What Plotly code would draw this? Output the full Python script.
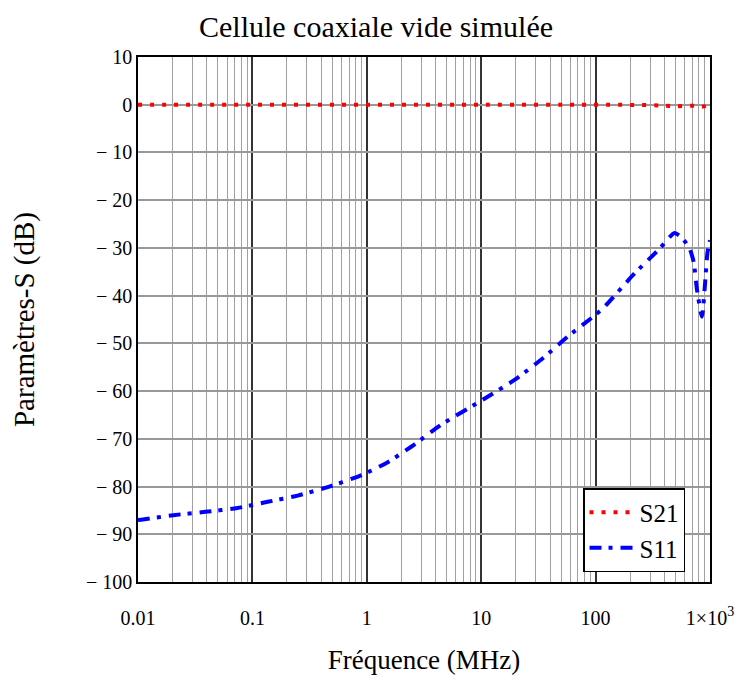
import plotly.graph_objects as go

# S11 data (frequency in MHz, dB)
s11_freq = [0.01, 0.011, 0.0203, 0.0388, 0.074, 0.136, 0.249, 0.47, 0.9, 1.5, 2.5, 4.5, 10, 20, 35, 57, 100, 120, 220, 355, 490, 568, 660, 720, 770, 850, 910, 950, 1000]
s11_db = [-87, -86.9, -86.0, -85.3, -84.5, -83.2, -81.9, -80.0, -77.6, -75.0, -71.5, -67.0, -62.0, -57.5, -53.0, -48.6, -44.0, -42.3, -35.3, -30.4, -26.9, -27.9, -30.0, -33.0, -38.8, -44.4, -36.7, -31.0, -28.4]

# S21 data
s21_freq = [0.01, 0.1, 1, 10, 100, 300, 500, 700, 850, 1000]
s21_db = [0.0, 0.0, 0.0, 0.0, 0.0, -0.1, -0.3, -0.2, -0.4, -0.1]

y_ticks = [10, 0, -10, -20, -30, -40, -50, -60, -70, -80, -90, -100]
y_ticktext = ["10", "0", "− 10", "− 20", "− 30", "− 40", "− 50", "− 60", "− 70", "− 80", "− 90", "− 100"]
x_ticks = [0.01, 0.1, 1, 10, 100, 1000]
x_ticktext = ["0.01", "0.1", "1", "10", "100", "1×10<sup>3</sup>"]

font_family = "Liberation Serif, Times New Roman, serif"

fig = go.Figure()
fig.add_trace(go.Scatter(
    x=s21_freq, y=s21_db, mode="lines", name="S21",
    line=dict(color="red", width=4, dash="4px,8px", shape="spline"),
))
fig.add_trace(go.Scatter(
    x=s11_freq, y=s11_db, mode="lines", name="S11",
    line=dict(color="blue", width=4, dash="12px,7px,4px,8px", shape="spline", smoothing=0.6),
))

fig.update_layout(
    width=736, height=685,
    margin=dict(l=130, r=34, t=49, b=111, autoexpand=False),
    paper_bgcolor="white", plot_bgcolor="white",
    font=dict(family=font_family, color="black", size=20),
    title=dict(text="Cellule coaxiale vide simulée", x=0.5, xanchor="center",
               y=0.973, yanchor="middle",
               font=dict(size=30, family=font_family),
               automargin=False),
    showlegend=True,
    legend=dict(x=0.778, y=0.179, xanchor="left", yanchor="top",
                bgcolor="white", bordercolor="black", borderwidth=1.5,
                font=dict(size=25, family=font_family), itemwidth=45,
                tracegroupgap=0),
)

fig.update_xaxes(
    type="log", range=[-2, 3],
    tickvals=x_ticks, ticktext=x_ticktext,
    showgrid=True, gridcolor="#333333", gridwidth=1.5,
    minor=dict(showgrid=True, gridcolor="#a0a0a0", gridwidth=1.3, dtick="D1", ticks=""),
    showline=True, linecolor="black", linewidth=1.5, mirror=True,
    ticks="outside", ticklen=17, tickcolor="rgba(0,0,0,0)", zeroline=False,
    automargin=False,
    title=dict(text="Fréquence (MHz)", font=dict(size=27, family=font_family), standoff=22),
    tickfont=dict(size=20),
)
fig.update_yaxes(
    range=[-100, 10],
    tickvals=y_ticks, ticktext=y_ticktext,
    showgrid=True, gridcolor="#999999", gridwidth=1.5,
    showline=True, linecolor="black", linewidth=1.5, mirror=True,
    ticks="", zeroline=False, automargin=False,
    title=dict(text="Paramètres-S (dB)", font=dict(size=29, family=font_family), standoff=48),
    tickfont=dict(size=20),
)

fig.write_html("out.html")
